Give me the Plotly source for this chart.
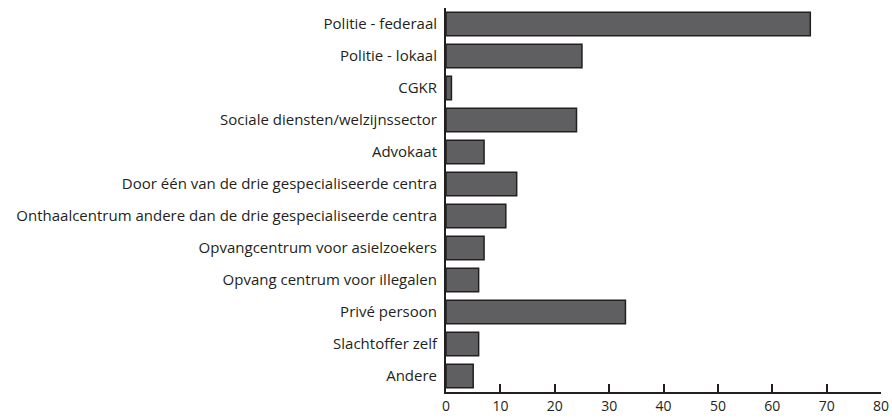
import plotly.graph_objects as go

categories = [
    "Politie - federaal",
    "Politie - lokaal",
    "CGKR",
    "Sociale diensten/welzijnssector",
    "Advokaat",
    "Door één van de drie gespecialiseerde centra",
    "Onthaalcentrum andere dan de drie gespecialiseerde centra",
    "Opvangcentrum voor asielzoekers",
    "Opvang centrum voor illegalen",
    "Privé persoon",
    "Slachtoffer zelf",
    "Andere",
]
values = [67, 25, 1, 24, 7, 13, 11, 7, 6, 33, 6, 5]
x_ticks = [0, 10, 20, 30, 40, 50, 60, 70, 80]

fig = go.Figure(go.Bar(
    x=values,
    y=categories,
    orientation="h",
    marker=dict(color="#5f5f61", line=dict(color="#231f20", width=1.5)),
    width=0.73,
    hoverinfo="x+y",
))

font_fam = "'Open Sans', Lato, sans-serif"
fig.update_layout(
    width=892, height=419,
    margin=dict(l=446, r=11, t=8, b=27, autoexpand=False),
    plot_bgcolor="white", paper_bgcolor="white",
    font=dict(family=font_fam, size=15, color="#231f20"),
    showlegend=False,
    xaxis=dict(
        range=[0, 80], tickvals=x_ticks, ticks="inside", ticklen=8,
        tickwidth=2, tickcolor="#231f20", showline=True, linecolor="#231f20",
        linewidth=2, showgrid=False, zeroline=False, fixedrange=True,
        tickfont=dict(size=14), automargin=False,
    ),
    yaxis=dict(
        categoryorder="array", categoryarray=categories[::-1],
        range=[-0.5, 11.5], showline=True, linecolor="#231f20", linewidth=2,
        showgrid=False, zeroline=False, ticks="", ticklabelstandoff=4,
        tickfont=dict(size=15), automargin=False, fixedrange=True,
    ),
)

fig.write_html(
    "out.html",
    config={"displayModeBar": False},
    post_script="document.body.style.margin='0';document.body.style.overflow='hidden';",
)
